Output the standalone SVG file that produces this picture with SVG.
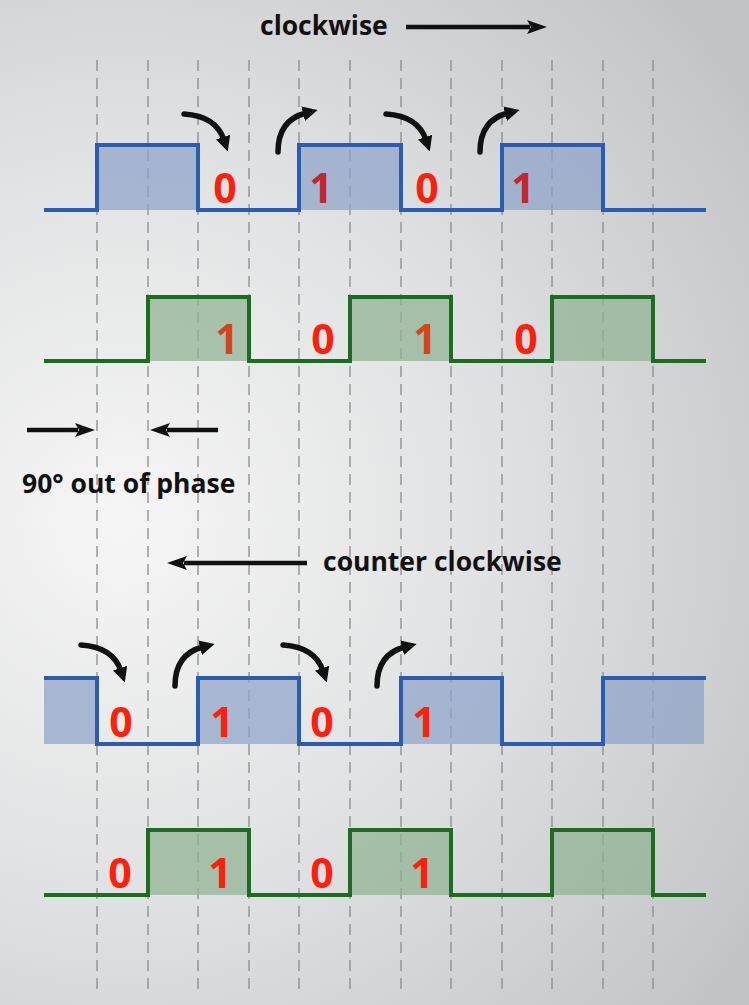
<svg xmlns="http://www.w3.org/2000/svg" width="749" height="1005" viewBox="0 0 749 1005">
<defs>
<radialGradient id="bg" cx="120" cy="520" r="760" gradientUnits="userSpaceOnUse">
<stop offset="0" stop-color="#f6f6f6"/>
<stop offset="0.5" stop-color="#e0e1e2"/>
<stop offset="1" stop-color="#c3c4c6"/>
</radialGradient>
<marker id="ah" viewBox="0 0 10 10" refX="2" refY="5" markerWidth="15" markerHeight="15" markerUnits="userSpaceOnUse" orient="auto">
<path d="M0,0 L10,5 L0,10 Z" fill="#111"/>
</marker>
<marker id="ahs" viewBox="0 0 20 14" refX="3" refY="7" markerWidth="20" markerHeight="14" markerUnits="userSpaceOnUse" orient="auto">
<path d="M0,0 L20,7 L0,14 L4,7 Z" fill="#111"/>
</marker>
</defs>
<style>
.grid{stroke:#8a8b8d;stroke-width:1.3;stroke-dasharray:11 7;fill:none}
.blue{stroke:#2b5cb0;stroke-width:4;fill:none;stroke-linejoin:miter}
.green{stroke:#1e6b22;stroke-width:4;fill:none;stroke-linejoin:miter}
.bfill{fill:#8ea4c9;fill-opacity:0.72}
.gfill{fill:#8fb291;fill-opacity:0.72}
.lbl{font-family:"Open Sans","Liberation Sans",sans-serif;font-weight:bold;font-size:26.5px;fill:#111}
.dig{font-family:"Open Sans","Liberation Sans",sans-serif;font-weight:bold;font-size:41px;fill:#ff1f0c;text-anchor:middle}
.dark{fill:#c2262e}
.orange{fill:#d2461c}
.arr{stroke:#111;stroke-width:4.5;fill:none}
.curve{stroke:#111;stroke-width:5.5;fill:none;stroke-linecap:round}
</style>
<rect x="0" y="0" width="749" height="1005" fill="url(#bg)"/>

<g id="grid">
<line class="grid" x1="97" y1="60" x2="97" y2="990"/>
<line class="grid" x1="148" y1="60" x2="148" y2="990"/>
<line class="grid" x1="198" y1="60" x2="198" y2="990"/>
<line class="grid" x1="249" y1="60" x2="249" y2="990"/>
<line class="grid" x1="299" y1="60" x2="299" y2="990"/>
<line class="grid" x1="350" y1="60" x2="350" y2="990"/>
<line class="grid" x1="401" y1="60" x2="401" y2="990"/>
<line class="grid" x1="451" y1="60" x2="451" y2="990"/>
<line class="grid" x1="502" y1="60" x2="502" y2="990"/>
<line class="grid" x1="552" y1="60" x2="552" y2="990"/>
<line class="grid" x1="603" y1="60" x2="603" y2="990"/>
<line class="grid" x1="653" y1="60" x2="653" y2="990"/>
</g>

<g id="title-cw">
<text class="lbl" x="260" y="35">clockwise</text>
<line class="arr" x1="406" y1="27" x2="530" y2="27" marker-end="url(#ahs)"/>
</g>

<g id="cw-blue">
<rect class="bfill" x="97" y="145" width="101" height="65"/>
<rect class="bfill" x="299" y="145" width="102" height="65"/>
<rect class="bfill" x="502" y="145" width="101" height="65"/>
<path class="blue" d="M44,210 H97 V145 H198 V210 H299 V145 H401 V210 H502 V145 H603 V210 H706"/>
<text class="dig" x="225" y="203">0</text>
<text class="dig dark" x="321" y="203">1</text>
<text class="dig" x="427" y="203">0</text>
<text class="dig dark" x="523" y="203">1</text>
</g>

<g id="cw-green">
<rect class="gfill" x="148" y="297" width="101" height="64"/>
<rect class="gfill" x="350" y="297" width="101" height="64"/>
<rect class="gfill" x="552" y="297" width="101" height="64"/>
<path class="green" d="M44,361 H148 V297 H249 V361 H350 V297 H451 V361 H552 V297 H653 V361 H706"/>
<text class="dig orange" x="227" y="354">1</text>
<text class="dig" x="323" y="354">0</text>
<text class="dig orange" x="425" y="354">1</text>
<text class="dig" x="526" y="354">0</text>
</g>

<g id="cw-curves">
<path class="curve" d="M184,114 Q216,116 224,140" marker-end="url(#ah)"/>
<path class="curve" d="M278,152 Q278,120 306,113" marker-end="url(#ah)"/>
<path class="curve" d="M386,114 Q418,116 426,140" marker-end="url(#ah)"/>
<path class="curve" d="M480,152 Q480,120 508,113" marker-end="url(#ah)"/>
</g>

<g id="phase">
<line class="arr" x1="27" y1="430" x2="78" y2="430" marker-end="url(#ahs)"/>
<line class="arr" x1="218" y1="430" x2="167" y2="430" marker-end="url(#ahs)"/>
<text class="lbl" x="22" y="493">90° out of phase</text>
</g>

<g id="title-ccw">
<line class="arr" x1="307" y1="563" x2="184" y2="563" marker-end="url(#ahs)"/>
<text class="lbl" x="323" y="571">counter clockwise</text>
</g>

<g id="ccw-blue">
<rect class="bfill" x="44" y="678" width="53" height="66"/>
<rect class="bfill" x="198" y="678" width="101" height="66"/>
<rect class="bfill" x="401" y="678" width="101" height="66"/>
<rect class="bfill" x="603" y="678" width="101" height="66"/>
<path class="blue" d="M44,678 H97 V744 H198 V678 H299 V744 H401 V678 H502 V744 H603 V678 H706"/>
<text class="dig" x="121" y="737">0</text>
<text class="dig" x="222" y="737">1</text>
<text class="dig" x="322" y="737">0</text>
<text class="dig" x="424" y="737">1</text>
</g>

<g id="ccw-green">
<rect class="gfill" x="148" y="830" width="101" height="65"/>
<rect class="gfill" x="350" y="830" width="101" height="65"/>
<rect class="gfill" x="552" y="830" width="101" height="65"/>
<path class="green" d="M44,895 H148 V830 H249 V895 H350 V830 H451 V895 H552 V830 H653 V895 H706"/>
<text class="dig" x="120" y="888">0</text>
<text class="dig" x="220" y="888">1</text>
<text class="dig" x="322" y="888">0</text>
<text class="dig" x="422" y="888">1</text>
</g>

<g id="ccw-curves">
<path class="curve" d="M81,645 Q113,647 121,671" marker-end="url(#ah)"/>
<path class="curve" d="M175,686 Q175,654 203,647" marker-end="url(#ah)"/>
<path class="curve" d="M283,645 Q315,647 323,671" marker-end="url(#ah)"/>
<path class="curve" d="M377,686 Q377,654 405,647" marker-end="url(#ah)"/>
</g>
</svg>
